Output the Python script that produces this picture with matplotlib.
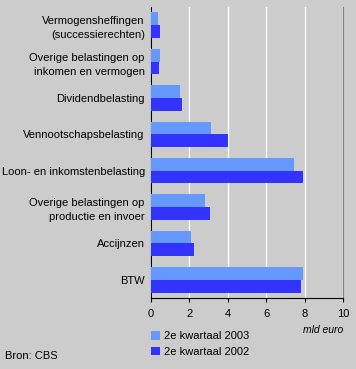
import matplotlib.pyplot as plt
import numpy as np

plt.rcParams['font.family'] = ['Liberation Sans', 'DejaVu Sans']

categories = [
    'Vermogensheffingen\n(successierechten)',
    'Overige belastingen op\ninkomen en vermogen',
    'Dividendbelasting',
    'Vennootschapsbelasting',
    'Loon- en inkomstenbelasting',
    'Overige belastingen op\nproductie en invoer',
    'Accijnzen',
    'BTW',
]
q2_2003 = [0.35, 0.45, 1.5, 3.15, 7.45, 2.8, 2.07, 7.9]
q2_2002 = [0.45, 0.4, 1.6, 4.0, 7.9, 3.05, 2.23, 7.8]
xticks = [0, 2, 4, 6, 8, 10]

bg = '#cccccc'
fig = plt.figure(figsize=(3.56, 3.69), dpi=100, facecolor=bg)
ax = fig.add_axes([151 / 356, 1 - 298 / 369, 192 / 356, 291 / 369])
ax.set_facecolor(bg)

y = np.arange(len(categories))
h = 0.35
ax.barh(y - h / 2, q2_2003, height=h, color='#6699ff', label='2e kwartaal 2003', zorder=3)
ax.barh(y + h / 2, q2_2002, height=h, color='#3333ff', label='2e kwartaal 2002', zorder=3)

ax.set_ylim(len(categories) - 0.5, -0.5)
ax.set_xlim(0, 10)
ax.set_xticks(xticks)
ax.set_yticks(y)
ax.set_yticklabels(categories, fontsize=8, ha='right', multialignment='right',
                   linespacing=1.5)
ax.tick_params(axis='y', length=0, pad=4.5)
ax.tick_params(axis='x', length=3, pad=5, labelsize=8, direction='out', color='black')
ax.xaxis.grid(True, color='white', linewidth=1, zorder=0)
ax.set_axisbelow(True)

ax.spines['top'].set_visible(False)
ax.spines['right'].set_color('#808080')
ax.spines['left'].set_color('black')
ax.spines['bottom'].set_color('black')

fig.text(343 / 356, 1 - 330 / 369, 'mld euro', fontsize=7.5, style='italic', ha='right', va='center')
fig.legend(loc='upper left', bbox_to_anchor=(141 / 356, 1 - 321 / 369), frameon=False,
           fontsize=8, handlelength=0.8, handleheight=0.8, handletextpad=0.4, labelspacing=0.5)
fig.text(5 / 356, 1 - 356 / 369, 'Bron: CBS', fontsize=8, ha='left', va='center')

fig.savefig('out.png', dpi=100, facecolor=bg)
